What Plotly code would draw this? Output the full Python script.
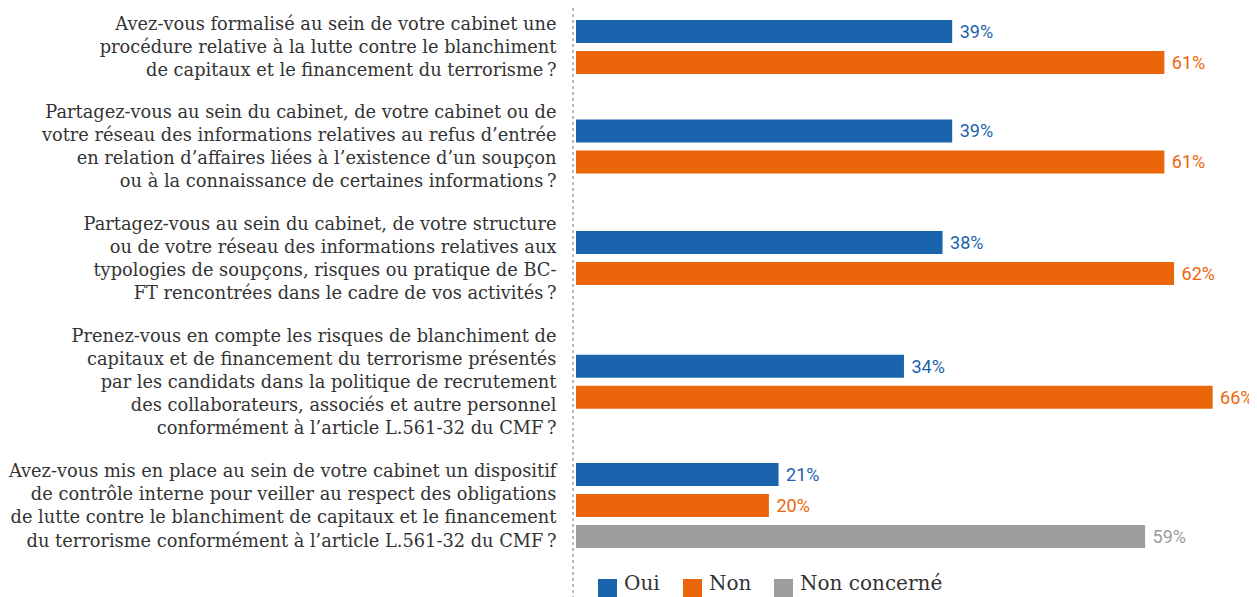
import plotly.graph_objects as go

NB = "\u202f"
questions = [
    "Avez-vous formalisé au sein de votre cabinet une<br>procédure relative à la lutte contre le blanchiment<br>de capitaux et le financement du terrorisme" + NB + "?",
    "Partagez-vous au sein du cabinet, de votre cabinet ou de<br>votre réseau des informations relatives au refus d’entrée<br>en relation d’affaires liées à l’existence d’un soupçon<br>ou à la connaissance de certaines informations" + NB + "?",
    "Partagez-vous au sein du cabinet, de votre structure<br>ou de votre réseau des informations relatives aux<br>typologies de soupçons, risques ou pratique de BC-<br>FT rencontrées dans le cadre de vos activités" + NB + "?",
    "Prenez-vous en compte les risques de blanchiment de<br>capitaux et de financement du terrorisme présentés<br>par les candidats dans la politique de recrutement<br>des collaborateurs, associés et autre personnel<br>conformément à l’article L.561-32 du CMF" + NB + "?",
    "Avez-vous mis en place au sein de votre cabinet un dispositif<br>de contrôle interne pour veiller au respect des obligations<br>de lutte contre le blanchiment de capitaux et le financement<br>du terrorisme conformément à l’article L.561-32 du CMF" + NB + "?",
]
series_names = ["Oui", "Non", "Non concerné"]
oui = [39, 39, 38, 34, 21]
non = [61, 61, 62, 66, 20]
non_concerne = [None, None, None, None, 59]
colors = ["#1a63ad", "#eb660a", "#9d9d9c"]

values = [oui, non, non_concerne]

# ---- layout (the page body has an 8px margin; compensate) ----
PAGE_W, PAGE_H = 1257, 597
OFF = 8
FIG_W, FIG_H = PAGE_W - OFF, PAGE_H - OFF
PLOT_LEFT = 576                      # page x where value 0 sits
PLOT_W = PAGE_W - PLOT_LEFT
X_MAX = 70.6

LINE_H = 24.4
GROUP_PAD = 14
first_center = 47
nlines = [q.count("<br>") + 1 for q in questions]
centers = [first_center]
for i in range(1, len(questions)):
    centers.append(centers[-1] + LINE_H * (nlines[i - 1] + nlines[i]) / 2 + GROUP_PAD)

BAR_PITCH = 31
BAR_W = 23

present = [[s for s in range(len(values)) if values[s][g] is not None] for g in range(len(questions))]

fig = go.Figure()
for s, (name, vals, col) in enumerate(zip(series_names, values, colors)):
    xs, ys = [], []
    for g, v in enumerate(vals):
        if v is None:
            continue
        k = present[g].index(s)
        n = len(present[g])
        xs.append(v)
        ys.append(centers[g] + (k - (n - 1) / 2) * BAR_PITCH)
    fig.add_trace(go.Bar(
        x=xs, y=ys, name=name, orientation="h", width=BAR_W,
        marker=dict(color=col, line=dict(width=0)),
        text=[f"\u00a0{v}%" for v in xs], textposition="outside",
        textfont=dict(family="Roboto", size=18, color=col),
        constraintext="none", cliponaxis=False, hoverinfo="skip",
        showlegend=False,
    ))

def px_x(sx):
    return (sx - PLOT_LEFT) / PLOT_W

def px_y(sy):
    return (PAGE_H - sy) / (PAGE_H - OFF)

# dotted separator line
fig.add_shape(type="line", xref="paper", yref="paper",
              x0=px_x(573), x1=px_x(573), y0=px_y(PAGE_H + 2), y1=px_y(0),
              line=dict(color="#7a7a7a", width=1, dash="dot"))

# legend (squares + labels)
LEG_SQ_X = [598, 683, 774]
LEG_SQ = 19
LEG_TOP = 579
for name, col, sx in zip(series_names, colors, LEG_SQ_X):
    fig.add_shape(type="rect", xref="paper", yref="paper", line=dict(width=0),
                  fillcolor=col,
                  x0=px_x(sx), x1=px_x(sx + LEG_SQ), y0=px_y(LEG_TOP + LEG_SQ), y1=px_y(LEG_TOP))
    fig.add_annotation(xref="paper", yref="paper", x=px_x(sx + LEG_SQ + 5), y=px_y(PAGE_H),
                       xanchor="left", yanchor="bottom", text=name, showarrow=False,
                       font=dict(family="DejaVu Serif", size=20, color="#333333"))

fig.update_layout(
    width=FIG_W, height=FIG_H,
    margin=dict(l=PLOT_LEFT - OFF, r=0, t=0, b=0, pad=0, autoexpand=False),
    plot_bgcolor="white", paper_bgcolor="white",
    barmode="overlay",
    showlegend=False,
    xaxis=dict(range=[0, X_MAX], visible=False, fixedrange=True),
    yaxis=dict(range=[PAGE_H, OFF], tickvals=centers, ticktext=questions, showgrid=False,
               zeroline=False, showline=False, ticks="outside", ticklen=15,
               tickcolor="rgba(0,0,0,0)", automargin=False,
               tickfont=dict(family="DejaVu Serif", size=17.8, color="#333333")),
)

fig.write_html("out.html")
